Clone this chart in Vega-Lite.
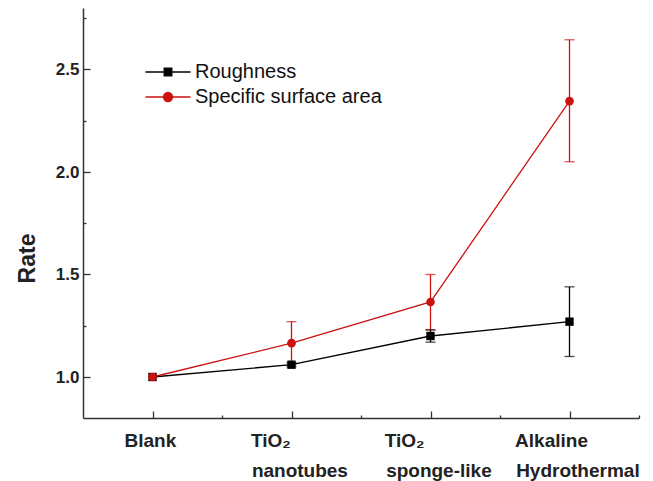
{
  "$schema": "https://vega.github.io/schema/vega-lite/v6.json",
  "width": 556,
  "height": 410,
  "autosize": {"type": "none"},
  "padding": {"left": 83, "top": 8, "right": 14, "bottom": 63},
  "background": "white",
  "config": {"view": {"stroke": null}, "font": "Liberation Sans"},
  "data": {"values": [
    {"cat": 0, "series": "Roughness", "value": 1.0, "lo": null, "hi": null},
    {"cat": 1, "series": "Roughness", "value": 1.06, "lo": 1.05, "hi": 1.07},
    {"cat": 2, "series": "Roughness", "value": 1.2, "lo": 1.17, "hi": 1.23},
    {"cat": 3, "series": "Roughness", "value": 1.27, "lo": 1.1, "hi": 1.44},
    {"cat": 0, "series": "Specific surface area", "value": 1.0, "lo": null, "hi": null},
    {"cat": 1, "series": "Specific surface area", "value": 1.165, "lo": 1.06, "hi": 1.27},
    {"cat": 2, "series": "Specific surface area", "value": 1.366, "lo": 1.23, "hi": 1.5},
    {"cat": 3, "series": "Specific surface area", "value": 2.346, "lo": 2.05, "hi": 2.645}
  ]},
  "encoding": {
    "x": {"field": "cat", "type": "quantitative",
      "scale": {"domain": [-0.5, 3.5], "nice": false, "zero": false},
      "axis": {"title": null, "grid": false, "values": [0, 0.5, 1, 1.5, 2, 2.5, 3, 3.5],
        "labelExpr": "datum.value == 0 ? 'Blank\u00a0\u200b' : datum.value == 1 ? ['\u200b\u00a0\u00a0\u00a0TiO₂\u00a0\u00a0\u00a0\u00a0\u00a0\u00a0\u00a0\u00a0\u00a0\u00a0\u00a0\u200b', '\u200b\u00a0\u00a0\u00a0nanotubes'] : datum.value == 2 ? ['\u200b\u00a0\u00a0\u00a0TiO₂\u00a0\u00a0\u00a0\u00a0\u00a0\u00a0\u00a0\u00a0\u00a0\u00a0\u00a0\u00a0\u00a0\u200b', '\u200b\u00a0\u00a0\u00a0sponge-like'] : datum.value == 3 ? ['\u200b\u00a0\u00a0\u00a0Alkaline\u00a0\u00a0\u00a0\u00a0\u00a0\u00a0\u00a0\u00a0\u00a0\u00a0\u200b', '\u200b\u00a0\u00a0\u00a0Hydrothermal'] : ''",
        "labelFont": "Liberation Sans", "labelFontWeight": "bold", "labelFontSize": 19,
        "labelColor": "#222", "labelLineHeight": 30, "labelPadding": 20, "labelBaseline": "top",
        "labelOverlap": false, "labelFlush": false, "labelLimit": 300,
        "domainColor": "#333", "domainWidth": 1.5, "tickColor": "#333", "tickWidth": 1.3,
        "tickSize": {"condition": {"test": "datum.value % 1 == 0", "value": -7}, "value": -3}}
    },
    "y": {"field": "value", "type": "quantitative",
      "scale": {"domain": [0.8, 2.8], "nice": false, "zero": false},
      "axis": {"title": "Rate", "grid": false, "values": [1, 1.25, 1.5, 1.75, 2, 2.25, 2.5, 2.75],
        "labelExpr": "datum.value % 0.5 == 0 ? format(datum.value, '.1f') : ''",
        "labelFont": "Liberation Sans", "labelFontWeight": "bold", "labelFontSize": 17,
        "labelColor": "#222", "labelPadding": 11, "labelOverlap": false, "labelFlush": false,
        "titleFont": "Liberation Sans", "titleFontWeight": "bold", "titleFontSize": 23, "titleColor": "#222",
        "titleX": -56, "titleY": 250, "titleBaseline": "middle", "titleAngle": -90,
        "domainColor": "#333", "domainWidth": 1.5, "tickColor": "#333", "tickWidth": 1.3,
        "tickSize": {"condition": {"test": "datum.value % 0.5 == 0", "value": -7}, "value": -3}}
    },
    "color": {"field": "series", "type": "nominal",
      "scale": {"domain": ["Roughness", "Specific surface area"], "range": ["#000000", "#cc1111"]},
      "legend": {"orient": "none", "legendX": 74, "legendY": 53, "title": null,
        "symbolSize": 400, "symbolStrokeWidth": 1.3, "labelOffset": 16, "rowPadding": 4,
        "labelFont": "Liberation Sans", "labelFontSize": 20, "labelColor": "#111", "labelLimit": 300,
        "encode": {"symbols": {"update": {
          "shape": {"signal": "datum.value === 'Roughness' ? 'M-2.25,0H2.25M-0.38,-0.38H0.38V0.38H-0.38Z' : 'M-2.25,0H2.25M0.45,0A0.45,0.45,0,1,1,-0.45,0A0.45,0.45,0,1,1,0.45,0Z'"},
          "fill": {"signal": "datum.value === 'Roughness' ? '#000000' : '#cc1111'"},
          "stroke": {"signal": "datum.value === 'Roughness' ? '#000000' : '#cc1111'"},
          "fillOpacity": {"value": 1},
          "strokeWidth": {"value": 1.3}
        }}}
      }
    }
  },
  "layer": [
    {"mark": {"type": "line", "strokeWidth": 1.3}},
    {"mark": {"type": "rule", "strokeWidth": 1.3}, "encoding": {"y": {"field": "lo", "type": "quantitative"}, "y2": {"field": "hi"}}},
    {"mark": {"type": "tick", "orient": "horizontal", "size": 10, "thickness": 1.3}, "encoding": {"y": {"field": "lo", "type": "quantitative"}}},
    {"mark": {"type": "tick", "orient": "horizontal", "size": 10, "thickness": 1.3}, "encoding": {"y": {"field": "hi", "type": "quantitative"}}},
    {"transform": [{"filter": "datum.series === 'Roughness'"}],
      "mark": {"type": "point", "shape": "square", "filled": true, "opacity": 1, "size": 70}},
    {"transform": [{"filter": "datum.series !== 'Roughness'"}],
      "mark": {"type": "point", "shape": "circle", "filled": true, "opacity": 1, "size": 75}}
  ]
}
